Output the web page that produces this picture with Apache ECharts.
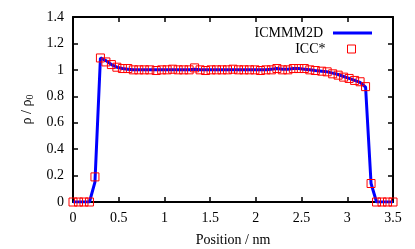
<!DOCTYPE html>
<html><head><meta charset="utf-8">
<script src="https://cdn.jsdelivr.net/npm/echarts@6/dist/echarts.min.js"></script>
<style>html,body{margin:0;padding:0;background:#fff}#c{width:415px;height:249px}</style>
</head><body><div id="c"></div>
<script>
var positions = [0,0.06,0.12,0.18,0.24,0.30,0.36,0.42,0.48,0.54,0.60,0.66,0.72,0.78,0.84,0.91,0.97,1.03,1.09,1.15,1.21,1.27,1.33,1.39,1.45,1.51,1.57,1.63,1.69,1.75,1.81,1.87,1.93,1.99,2.05,2.11,2.17,2.23,2.29,2.35,2.41,2.47,2.53,2.59,2.65,2.72,2.78,2.84,2.90,2.96,3.02,3.08,3.14,3.20,3.26,3.32,3.38,3.44,3.50];
var icmmm2d = [0,0,0,0,0.15,1.09,1.07,1.04,1.02,1.01,1.005,1.0,1.0,1.0,1.0,1.0,1.0,1.0,1.0,1.0,1.0,1.0,1.005,1.0,1.0,1.0,1.0,1.0,1.0,1.0,1.0,1.0,1.0,1.0,1.0,1.0,1.005,1.01,1.005,1.005,1.01,1.01,1.005,1.0,0.995,0.99,0.985,0.975,0.965,0.95,0.935,0.92,0.905,0.87,0.14,0,0,0,0];
var iccStar = [0,0,0,0,0.19,1.09,1.06,1.04,1.02,1.01,1.01,1.0,1.0,1.0,1.0,0.995,1.0,1.0,1.005,1.0,1.0,1.0,1.015,1.0,0.995,1.0,1.0,1.0,1.0,1.005,1.0,1.0,1.0,1.0,0.995,1.0,1.0,1.01,1.0,1.0,1.01,1.01,1.01,1.0,0.995,0.99,0.985,0.97,0.96,0.945,0.935,0.92,0.91,0.873,0.14,0,0,0,0];
var xTicks = [0,0.5,1,1.5,2,2.5,3,3.5];
var yTicks = [0,0.2,0.4,0.6,0.8,1,1.2,1.4];

var font = 'Liberation Serif';
function pairs(xs, ys){ return xs.map(function(x,i){return [x, ys[i]];}); }
var chart = echarts.init(document.getElementById('c'), null, {renderer:'canvas'});
var axisLine = {show:true, onZero:false, lineStyle:{color:'#000', width:2}};
var tick = {show:true, inside:true, length:5, lineStyle:{color:'#000', width:1.5}};
chart.setOption({
  animation:false,
  backgroundColor:'#fff',
  textStyle:{fontFamily:font},
  grid:{left:73, right:22, top:17, bottom:47, containLabel:false, outerBoundsMode:'none'},
  legend:[{
    data:[{name:'ICMMM2D', icon:'rect'}],
    right:38, top:21, orient:'vertical', align:'right',
    itemWidth:39, itemHeight:3,
    textStyle:{fontFamily:font, fontSize:14, color:'#000', padding:[0,5,0,0]}
  },{
    data:[{name:'ICC*', icon:'rect', itemStyle:{color:'rgba(0,0,0,0)', borderColor:'#ff0000', borderWidth:1}}],
    right:54, top:37, orient:'vertical', align:'right',
    itemWidth:8, itemHeight:8,
    textStyle:{fontFamily:font, fontSize:14, color:'#000', padding:[0,17,0,0]}
  }],
  xAxis:[{
    type:'value', min:0, max:3.5, interval:0.5, position:'bottom',
    axisLine:axisLine, axisTick:tick, splitLine:{show:false},
    axisLabel:{fontFamily:font, fontSize:14, color:'#000', margin:9},
    name:'Position / nm', nameLocation:'middle', nameGap:31,
    nameTextStyle:{fontFamily:font, fontSize:14, color:'#000'}
  },{
    type:'value', min:0, max:3.5, interval:0.5, position:'top',
    axisLine:axisLine, axisTick:tick, splitLine:{show:false}, axisLabel:{show:false}
  }],
  yAxis:[{
    type:'value', min:0, max:1.4, interval:0.2, position:'left',
    axisLine:axisLine, axisTick:tick, splitLine:{show:false},
    axisLabel:{fontFamily:font, fontSize:14, color:'#000', margin:9},
    name:'ρ / ρ{sub|0}', nameLocation:'middle', nameGap:31, nameRotate:90,
    nameTextStyle:{fontFamily:font, fontSize:14, color:'#000',
      rich:{sub:{fontFamily:font, fontSize:10, color:'#000', verticalAlign:'bottom', padding:[6,0,0,0]}}}
  },{
    type:'value', min:0, max:1.4, interval:0.2, position:'right',
    axisLine:axisLine, axisTick:tick, splitLine:{show:false}, axisLabel:{show:false}
  }],
  series:[{
    name:'ICMMM2D', type:'line', data:pairs(positions, icmmm2d),
    showSymbol:false, symbol:'none',
    lineStyle:{color:'#0000ff', width:3}, itemStyle:{color:'#0000ff'}, z:2
  },{
    name:'ICC*', type:'scatter', data:pairs(positions, iccStar),
    symbol:'rect', symbolSize:8,
    itemStyle:{color:'rgba(0,0,0,0)', borderColor:'#ff0000', borderWidth:1, opacity:1}, z:3
  }]
});
</script></body></html>
